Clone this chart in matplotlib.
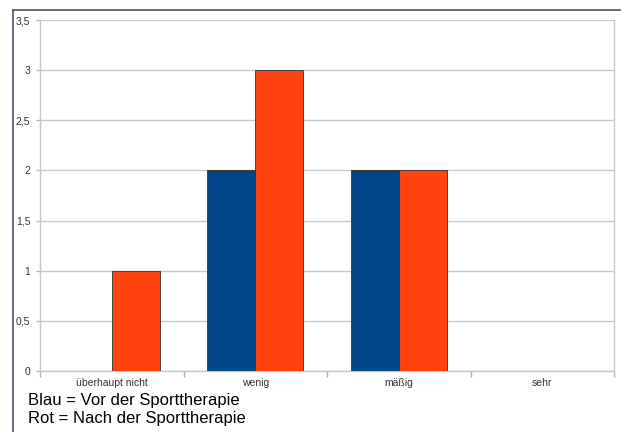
import matplotlib
matplotlib.use("Agg")
import matplotlib.pyplot as plt
from matplotlib.lines import Line2D
import numpy as np

categories = ["überhaupt nicht", "wenig", "mäßig", "sehr"]
vor = [0, 2, 2, 0]
nach = [1, 3, 2, 0]
yticks = [0, 0.5, 1, 1.5, 2, 2.5, 3, 3.5]
ytick_labels = ["0", "0,5", "1", "1,5", "2", "2,5", "3", "3,5"]

plt.rcParams['font.family'] = ['Liberation Sans', 'DejaVu Sans']

W, H = 621, 432
fig = plt.figure(figsize=(W / 100, H / 100), dpi=100)
fig.patch.set_facecolor("white")
ax = fig.add_axes([40 / W, 1 - 371 / H, (614 - 40) / W, (371 - 20) / H])

x = np.arange(len(categories))
bw = 1 / 3
ax.bar(x - bw / 2, vor, width=bw, color="#004586", edgecolor="#333333", linewidth=0.6, zorder=3)
ax.bar(x + bw / 2, nach, width=bw, color="#ff420e", edgecolor="#333333", linewidth=0.6, zorder=3)

ax.set_xlim(-0.5, len(categories) - 0.5)
ax.set_ylim(0, 3.5)
ax.set_yticks(yticks)
ax.set_yticklabels(ytick_labels, fontsize=7.5, color="#333333")
ax.set_xticks(x)
ax.set_xticklabels(categories, fontsize=7.5, color="#333333")
ax.tick_params(axis="x", length=0, pad=5)
ax.set_xticks(np.arange(-0.5, len(categories)), minor=True)
ax.tick_params(axis="x", which="minor", length=4, color="#b3b3b3", width=1)
ax.tick_params(axis="y", length=3, color="#b3b3b3", width=1, pad=4)
ax.grid(axis="y", color="#c8c8c8", linewidth=1, zorder=0)
for s in ["top"]:
    ax.spines[s].set_visible(False)
for s in ["left", "bottom", "right"]:
    ax.spines[s].set_color("#c8c8c8")
    ax.spines[s].set_linewidth(1)

# outer frame lines
fig.add_artist(Line2D([12.5 / W, 12.5 / W], [0, 1 - 9.5 / H], color="#4a5568", linewidth=1.2))
fig.add_artist(Line2D([12.5 / W, 1], [1 - 9.5 / H, 1 - 9.5 / H], color="#4a5568", linewidth=1.2))

fig.text(28 / W, 1 - 400 / H, "Blau = Vor der Sporttherapie", fontsize=12, va="center", ha="left", color="black")
fig.text(28 / W, 1 - 419 / H, "Rot = Nach der Sporttherapie", fontsize=12, va="center", ha="left", color="black")

fig.savefig("out.png", dpi=100)
